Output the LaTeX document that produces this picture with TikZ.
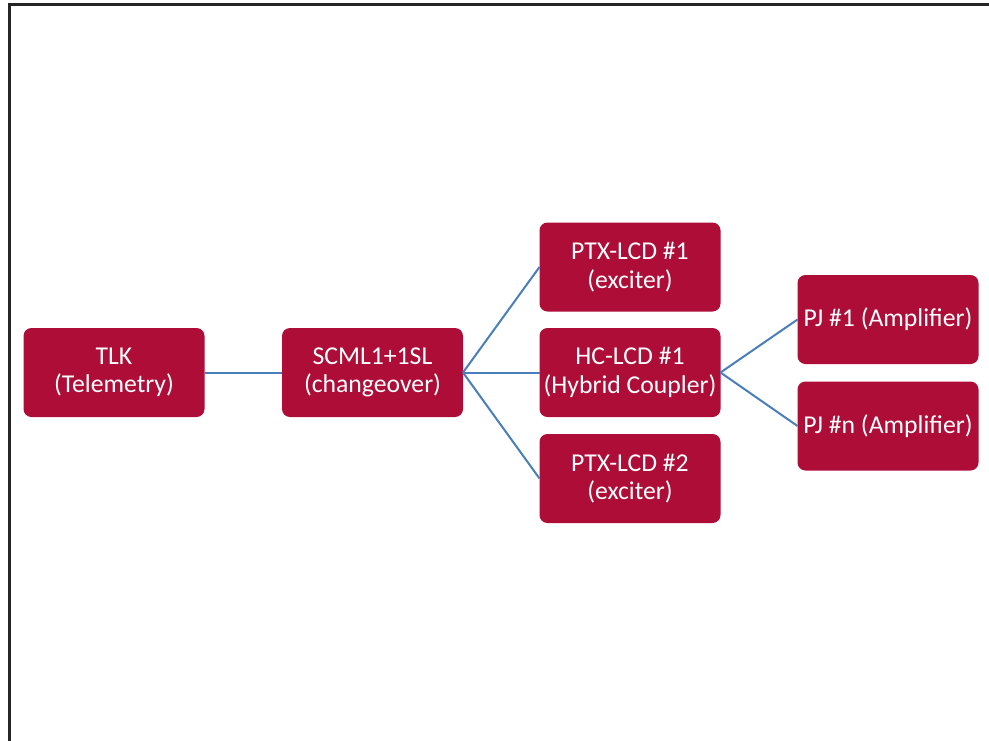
\documentclass[tikz,border=0pt]{standalone}
\usepackage{fontspec}
\setmainfont{Carlito}
\definecolor{boxred}{HTML}{AD0D37}
\definecolor{lineblue}{HTML}{4A7EBB}
\definecolor{framegray}{HTML}{262626}
\tikzset{
  unit/.style={fill=boxred, rounded corners=8pt, minimum height=89pt, minimum width=181pt,
    inner sep=0pt, outer sep=0pt, text=white, align=center,
    font=\fontsize{25.7pt}{28.5pt}\selectfont},
  link/.style={draw=lineblue, line width=2pt}
}
\begin{document}
\begin{tikzpicture}[x=1pt, y=-1pt]
\useasboundingbox (0,0) rectangle (989,740);
\clip (0,0) rectangle (989,740);
\fill[white] (0,0) rectangle (989,740);
\draw[framegray, line width=3pt] (9.5,760) -- (9.5,4.5) -- (1000,4.5);
\node[unit] (tlk) at (114,372.5) {TLK\\(Telemetry)};
\node[unit] (scml) at (372.5,372.5) {SCML1+1SL\\(changeover)};
\node[unit] (ptx1) at (630,267) {PTX-LCD \#1\\(exciter)};
\node[unit] (hc) at (630,372.5) {HC-LCD \#1\\(Hybrid Coupler)};
\node[unit] (ptx2) at (630,478.5) {PTX-LCD \#2\\(exciter)};
\node[unit] (pj1) at (888,319.5) {PJ \#1 (Amplifier)};
\node[unit] (pjn) at (888,426) {PJ \#n (Amplifier)};
\draw[link] (tlk.east) -- (scml.west);
\draw[link] (scml.east) -- (ptx1.west);
\draw[link] (scml.east) -- (hc.west);
\draw[link] (scml.east) -- (ptx2.west);
\draw[link] (hc.east) -- (pj1.west);
\draw[link] (hc.east) -- (pjn.west);
\end{tikzpicture}
\end{document}
